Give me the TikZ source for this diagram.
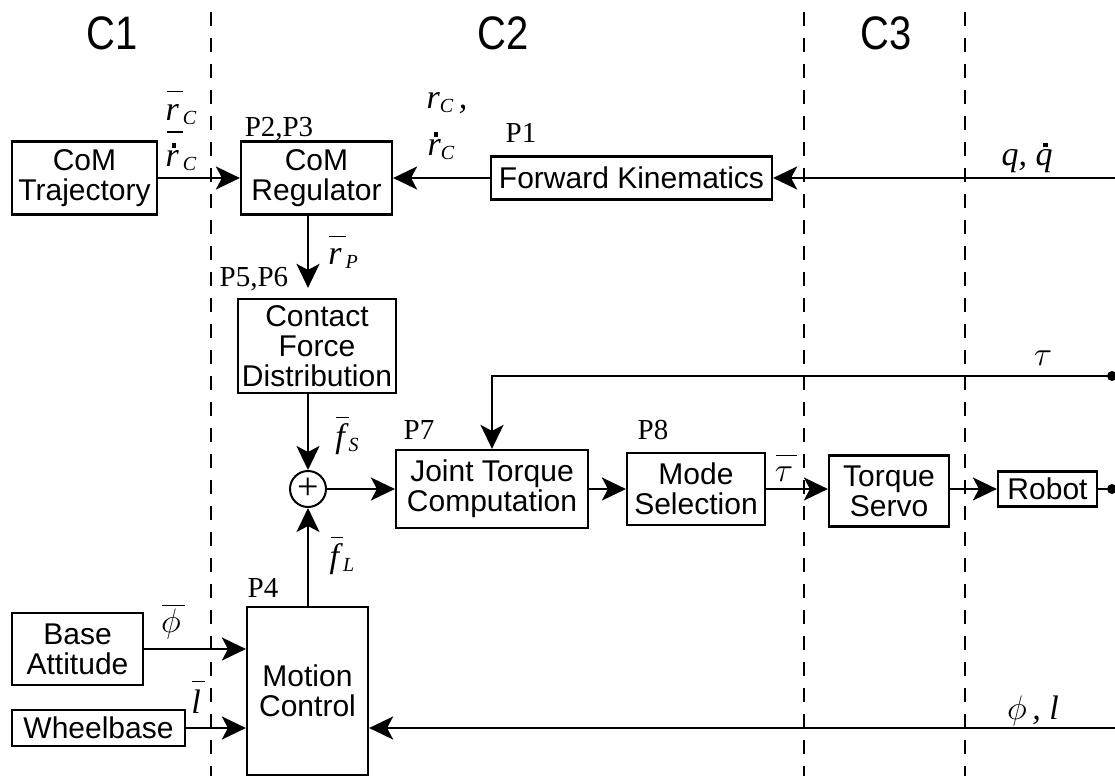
\RequirePackage{fix-cm}
\documentclass[tikz,border=0pt]{standalone}
\usepackage{fontspec}
\usepackage{graphicx}
\setmainfont{Liberation Sans}
\newfontfamily\tms{Liberation Serif}
\usetikzlibrary{arrows.meta}
\newcommand\bxf{\fontsize{30}{30}\selectfont}
\newcommand\lbf{\fontsize{34}{34}\selectfont\tms\itshape}
\newcommand\plf{\fontsize{29}{29}\selectfont\tms}
\newcommand\ttf{\fontsize{47}{47}\selectfont}
\newcommand\barr[2][27pt]{{\setbox0\hbox{#2}\vbox{\offinterlineskip\moveright1pt\hbox{\vrule width\dimexpr\wd0+3pt\relax height1.5pt depth0pt}\kern\dimexpr#1-\ht0-1.5pt\relax\box0}}}
\newcommand\dotx[1]{{\setbox0\hbox{#1}\vbox{\offinterlineskip\hbox to\wd0{\hss\kern3pt\rule{4.5pt}{4.5pt}\hss}\kern2.5pt\box0}}}
\newcommand\sbs[1]{\raisebox{-4pt}{\fontsize{20}{20}\selectfont #1}}
\begin{document}
\begin{tikzpicture}[x=1pt,y=-1pt,
  blk/.style={draw,line width=2.2pt,inner sep=1pt,align=center,font=\bxf},
  arr/.style={line width=2.2pt,-{Stealth[length=24pt,width=23pt,inset=6pt]}},
  ln/.style={line width=2.2pt},
  sepline/.style={line width=1.3pt,dash pattern=on 14pt off 12pt},
  lab/.style={font=\lbf,inner sep=0pt},
  plab/.style={font=\plf,inner sep=0pt},
  ttl/.style={font=\ttf,inner sep=0pt},
  dotn/.style={circle,fill,inner sep=0pt,minimum size=10pt}]
\useasboundingbox (0,0) rectangle (1115,776);
% separators
\draw[sepline] (211,12) -- (211,776);
\draw[sepline] (804,12) -- (804,776);
\draw[sepline] (965,12) -- (965,776);
% titles
\node[ttl] (c1) at (112,33) {\scalebox{0.85}[1]{C1}};
\node[ttl] (c2) at (503,33) {\scalebox{0.85}[1]{C2}};
\node[ttl] (c3) at (886,33) {\scalebox{0.85}[1]{C3}};
% blocks
\node[blk,minimum width=145pt,minimum height=73pt] (traj) at (84.5,178) {CoM\\Trajectory};
\node[blk,minimum width=151pt,minimum height=73pt] (reg) at (316.5,178) {CoM\\Regulator};
\node[blk,minimum width=281pt,minimum height=43pt] (fk) at (631.5,178) {Forward Kinematics};
\node[blk,minimum width=158pt,minimum height=94pt] (cfd) at (317,346) {Contact\\Force\\Distribution};
\node[circle,draw,line width=2pt,minimum size=36pt,inner sep=0pt,font=\fontsize{38}{38}\selectfont\tms] (sum) at (308,489) {+};
\node[blk,minimum width=192pt,minimum height=78pt] (jtc) at (492,489) {Joint Torque\\Computation};
\node[blk,minimum width=138pt,minimum height=72pt] (mode) at (696,489) {Mode\\Selection};
\node[blk,minimum width=120pt,minimum height=71pt] (servo) at (889,491) {Torque\\Servo};
\node[blk,minimum width=99pt,minimum height=35pt] (robot) at (1047.5,489) {Robot};
\node[blk,minimum width=131pt,minimum height=72pt] (base) at (77.5,649) {Base\\Attitude};
\node[blk,minimum width=173pt,minimum height=36pt] (wheel) at (98.5,728) {Wheelbase};
\node[blk,minimum width=121pt,minimum height=168pt] (motion) at (307.5,691) {Motion\\Control};
% right side terminals
\coordinate (qin) at (1115,178);
\coordinate (phin) at (1115,728);
\node[dotn] (d1) at (1112,376) {};
\node[dotn] (d2) at (1112,489) {};
% connectors
\draw[arr] (traj.east) -- (reg.west);
\draw[arr] (fk.west) -- (reg.east);
\draw[arr] (qin) -- (fk.east);
\draw[arr] (reg.south -| sum.center) -- ([yshift=10pt]cfd.north -| sum.center);
\draw[arr] (cfd.south -| sum.center) -- (sum.north);
\draw[arr] (motion.north -| sum.center) -- (sum.south);
\draw[arr] (sum.east) -- (jtc.west);
\draw[arr] (d1.center) -| (jtc.north);
\draw[arr] (jtc.east) -- (mode.west);
\draw[arr] (mode.east) -- (mode.east -| servo.west);
\draw[arr] (servo.east |- robot.west) -- (robot.west);
\draw[ln] (robot.east) -- (d2.center);
\draw[arr] (base.east) -- (base.east -| motion.west);
\draw[arr] (wheel.east) -- (wheel.east -| motion.west);
\draw[arr] (phin) -- (phin -| motion.east);
% signal labels
\node[lab] (lrc1) at (181,108) {\barr[30pt]{r}\sbs{C}};
\node[lab] (lrc2) at (181,151) {\barr[35pt]{\dotx{r}}\sbs{C}};
\node[lab] (lrc3) at (447,103) {r\sbs{C}\,,};
\node[lab] (lrc4) at (441,146) {\dotx{r}\sbs{C}};
\node[lab] (lq) at (1027,158) {q, \dotx{q}};
\node[lab] (lrp) at (343,252) {\barr[29pt]{r}\sbs{P}};
\node[lab] (lfs) at (347,436) {\barr[31pt]{f}\sbs{S}};
\node[lab] (lfl) at (342,556) {\barr[31pt]{f}\sbs{L}};
\node[lab] (ltb) at (786,468) {\barr[27pt]{$\tau$}};
\node[lab] (lt) at (1043,358) {$\tau$};
\node[lab] (lphib) at (173,622) {\barr[28pt]{$\phi$}};
\node[lab] (llb) at (198,697) {\barr[33pt]{l}};
\node[lab] (lphil) at (1033,711) {$\phi$\,, l};
% process labels
\node[plab] (p23) at (279,129) {P2,P3};
\node[plab] (p1) at (521,133) {P1};
\node[plab] (p56) at (254,279) {P5,P6};
\node[plab] (p7) at (419,430) {P7};
\node[plab] (p8) at (653,430) {P8};
\node[plab] (p4) at (263,588) {P4};
\end{tikzpicture}
\end{document}
